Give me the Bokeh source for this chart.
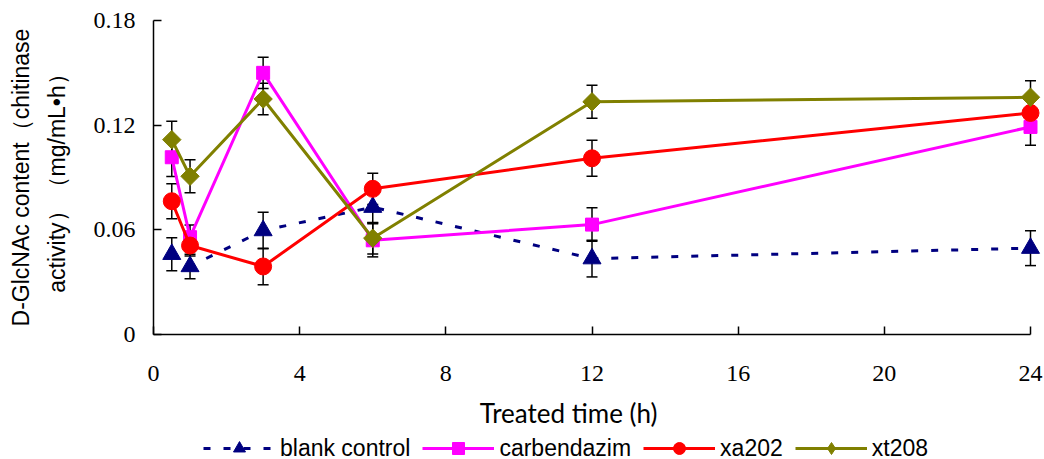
from bokeh.plotting import figure
from bokeh.models import (FixedTicker, Whisker, ColumnDataSource, Legend,
                          LegendItem, Label, TeeHead)
from bokeh.embed import file_html
from bokeh.resources import INLINE
import math

# ---- data ----
hours = [0.5, 1, 3, 6, 12, 24]
series_names = ["blank control", "carbendazim", "xa202", "xt208"]
blank_control = [0.046, 0.039, 0.0596, 0.073, 0.0435, 0.0495]
blank_err = [0.0095, 0.007, 0.0105, 0.009, 0.0105, 0.010]
carbendazim = [0.1016, 0.0558, 0.150, 0.054, 0.063, 0.119]
carbendazim_err = [0.011, 0.007, 0.009, 0.0095, 0.0096, 0.0105]
xa202 = [0.0764, 0.051, 0.039, 0.0835, 0.101, 0.127]
xa202_err = [0.010, 0.006, 0.0105, 0.009, 0.0103, 0.009]
xt208 = [0.1117, 0.0907, 0.135, 0.0552, 0.1334, 0.136]
xt208_err = [0.0105, 0.0095, 0.009, 0.009, 0.0095, 0.0095]

x_ticks = [0, 4, 8, 12, 16, 20, 24]
y_ticks = [0, 0.06, 0.12, 0.18]
y_tick_labels = ["0", "0.06", "0.12", "0.18"]
x_title = "Treated time (h)"
y_title_lines = ["D-GlcNAc content\uff08chitinase",
                 "activity\uff09\uff08mg/mL\u2022h\uff09"]

data = dict(hours=hours)
for key, vals, errs in [("blank", blank_control, blank_err),
                        ("carb", carbendazim, carbendazim_err),
                        ("xa", xa202, xa202_err),
                        ("xt", xt208, xt208_err)]:
    data[key] = vals
    data[key + "_hi"] = [v + e for v, e in zip(vals, errs)]
    data[key + "_lo"] = [v - e for v, e in zip(vals, errs)]
src = ColumnDataSource(data)

# the frame covers the whole canvas; axes are drawn at fixed locations
W, H = 1044, 459
X0, X24 = 153, 1030          # pixel of x=0 and x=24
Y0, Y18 = 334, 20            # pixel of y=0 and y=0.18
kx = (X24 - X0) / 24.0
ky = (Y0 - Y18) / 0.18
x_rng = (-X0 / kx, 24 + (W - X24) / kx)
y_rng = (-(H - Y0) / ky, 0.18 + Y18 / ky)

p = figure(width=W, height=H, x_range=x_rng, y_range=y_rng,
           output_backend="svg", toolbar_location=None,
           min_border_left=0, min_border_right=0, min_border_top=0,
           min_border_bottom=0)
p.outline_line_color = None
p.grid.visible = False
p.background_fill_color = "white"
p.border_fill_color = "white"

p.xaxis.fixed_location = 0
p.yaxis.fixed_location = 0
p.xaxis.bounds = (0, 24)
p.yaxis.bounds = (0, 0.18)
p.xaxis.ticker = FixedTicker(ticks=x_ticks)
p.yaxis.ticker = FixedTicker(ticks=y_ticks)
p.yaxis.major_label_overrides = {t: l for t, l in zip(y_ticks, y_tick_labels)}
for ax in (p.xaxis, p.yaxis):
    ax.axis_line_color = "black"
    ax.axis_line_width = 1.5
    ax.major_tick_line_color = "black"
    ax.major_tick_line_width = 1.5
    ax.major_tick_in = 8
    ax.major_tick_out = 0
    ax.minor_tick_line_color = None
    ax.major_label_text_font = "'Liberation Serif', serif"
    ax.major_label_text_font_size = "24px"
    ax.major_label_text_color = "black"
p.xaxis.major_label_standoff = 31
p.yaxis.major_label_standoff = 18

# axis titles
p.add_layout(Label(x=11.36, y=(Y0 - 412) / ky, text=x_title,
                   text_align="center", text_baseline="middle",
                   text_font="Lato", text_font_size="26px",
                   text_color="black"))
for line, px in zip(y_title_lines, [20, 56]):
    p.add_layout(Label(x=(px - X0) / kx, y=(Y0 - 177) / ky, text=line,
                       angle=math.pi / 2, text_align="center",
                       text_baseline="middle",
                       text_font="'Liberation Sans', Arial, sans-serif",
                       text_font_size="23px", text_color="black"))

# error bars
for key in ["blank", "carb", "xa", "xt"]:
    w = Whisker(source=src, base="hours", upper=key + "_hi", lower=key + "_lo",
                line_color="black", line_width=1.5, level="underlay",
                upper_head=TeeHead(size=11, line_color="black", line_width=1.5),
                lower_head=TeeHead(size=11, line_color="black", line_width=1.5))
    p.add_layout(w)

# (key, colour, dash, marker for legend, size, plot marker, plot size, angle)
styles = [
    ("blank", "#000080", "7 13", "triangle", 18, None, 0, 0),
    ("carb", "#FF00FF", "solid", "square", 13, None, 0, 0),
    ("xa", "#FF0000", "solid", "circle", 17, None, 0, 0),
    ("xt", "#808000", "solid", "diamond", 16, "square", 13, math.pi / 4),
]
items = []
for name, (key, color, dash, marker, size, pmarker, psize, ang) in zip(series_names, styles):
    ln = p.line("hours", key, source=src, line_color=color, line_width=3,
                line_dash=dash)
    sc = p.scatter("hours", key, source=src, marker=marker, size=size,
                   fill_color=color, line_color=color)
    if pmarker is not None:
        # wider diamond (rotated square) drawn over the narrower legend diamond
        p.scatter("hours", key, source=src, marker=pmarker, size=psize,
                  angle=ang, fill_color=color, line_color=color)
    items.append(LegendItem(label=name, renderers=[ln, sc]))

legend = Legend(items=items, orientation="horizontal", location=(203, -4),
                glyph_width=72, glyph_height=30, label_height=30,
                label_standoff=5, spacing=12,
                padding=0, margin=0, border_line_color=None,
                background_fill_alpha=0,
                label_text_font="'Liberation Sans', Arial, sans-serif",
                label_text_font_size="23px", label_text_color="black")
p.add_layout(legend)

open("out.html", "w").write(file_html(p, INLINE))
